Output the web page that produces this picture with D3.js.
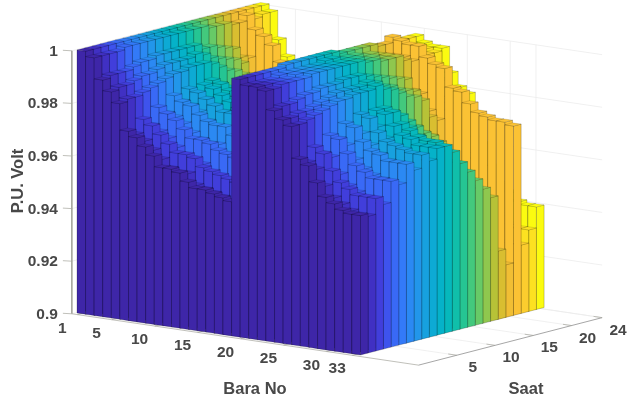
<!DOCTYPE html>
<html><head><meta charset="utf-8">
<script src="https://d3js.org/d3.v7.min.js"></script>
<style>html,body{margin:0;padding:0;background:#fff;overflow:hidden}svg{display:block}text{font-family:"Liberation Sans",Arial,sans-serif}</style>
</head><body>
<script>
const buses=d3.range(1,34);
const hours=d3.range(1,25);
const busTicks=[1,5,10,15,20,25,30,33];
const hourTicks=[5,10,15,20,24];
const voltTicks=[0.9,0.92,0.94,0.96,0.98,1];
const voltLabels=["0.9","0.92","0.94","0.96","0.98","1"];
const parulaStops=["#3e26a8","#4338dd","#3b68fb","#2e87f7","#1c9fe3","#04b0ce","#02bbb8","#2cc988","#72cc63","#c5bf27","#fdbb38","#fcc832","#fbfb10"];
const h01=[1.000,.998,.990,.986,.982,.972,.970,.967,.964,.960,.960,.959,.956,.954,.954,.953,.952,.951,.998,.996,.996,.995,.988,.985,.983,.971,.969,.963,.958,.956,.954,.953,.953];
const h02=[1.000,.998,.991,.987,.983,.970,.968,.965,.962,.959,.958,.958,.954,.953,.952,.951,.950,.950,.998,.996,.996,.995,.989,.985,.983,.969,.967,.961,.957,.955,.953,.952,.952];
const h03=[1.000,.998,.991,.987,.983,.975,.973,.970,.967,.964,.964,.963,.960,.959,.958,.957,.956,.956,.998,.996,.996,.996,.989,.986,.984,.974,.972,.966,.962,.960,.958,.958,.958];
const h04=[1.000,.998,.991,.988,.984,.972,.970,.968,.965,.962,.961,.960,.957,.956,.956,.955,.954,.954,.998,.996,.996,.996,.990,.986,.985,.971,.970,.964,.960,.958,.956,.955,.955];
const h05=[1.000,.999,.992,.989,.985,.978,.976,.974,.971,.968,.968,.967,.965,.964,.963,.962,.961,.961,.998,.997,.996,.996,.991,.987,.986,.977,.976,.971,.967,.965,.963,.963,.963];
const h06=[1.000,.999,.993,.989,.986,.975,.974,.972,.969,.967,.966,.966,.963,.962,.961,.961,.960,.960,.998,.997,.997,.996,.991,.988,.987,.975,.973,.968,.965,.963,.962,.961,.961];
const h07=[1.000,.999,.993,.990,.987,.981,.979,.978,.975,.973,.972,.972,.969,.968,.968,.967,.966,.966,.999,.997,.997,.997,.992,.989,.988,.980,.979,.974,.971,.970,.968,.968,.968];
const h08=[1.000,.999,.994,.991,.988,.978,.977,.975,.972,.970,.970,.969,.967,.966,.965,.965,.964,.964,.999,.997,.997,.997,.992,.990,.988,.977,.976,.972,.969,.967,.966,.965,.965];
const h09=[1.000,.999,.994,.991,.988,.982,.981,.979,.977,.975,.975,.974,.972,.971,.970,.970,.969,.969,.999,.997,.997,.997,.992,.990,.989,.982,.981,.976,.973,.972,.971,.970,.970];
const h10=[1.000,.999,.994,.991,.989,.979,.978,.976,.974,.972,.971,.971,.968,.968,.967,.967,.966,.966,.999,.997,.997,.997,.993,.990,.989,.978,.977,.973,.970,.969,.967,.967,.967];
const h11=[1.000,.999,.994,.991,.989,.982,.981,.979,.977,.975,.975,.974,.972,.971,.971,.970,.970,.970,.999,.998,.997,.997,.993,.990,.989,.982,.981,.977,.974,.973,.971,.971,.971];
const h12=[1.000,.999,.994,.992,.989,.983,.982,.980,.978,.976,.975,.975,.973,.972,.972,.971,.971,.970,.999,.998,.997,.997,.993,.991,.990,.982,.981,.977,.975,.973,.972,.972,.971];
const h13=[1.000,.999,.994,.991,.988,.981,.980,.978,.975,.973,.973,.972,.970,.969,.968,.968,.967,.967,.999,.997,.997,.997,.992,.990,.988,.980,.979,.975,.972,.970,.969,.968,.968];
const h14=[1.000,.999,.992,.989,.986,.978,.976,.974,.971,.969,.968,.968,.965,.964,.964,.963,.962,.962,.998,.997,.997,.996,.991,.988,.987,.977,.976,.971,.967,.966,.964,.963,.963];
const h15=[1.000,.999,.992,.988,.984,.975,.974,.971,.968,.965,.965,.964,.961,.960,.959,.959,.958,.957,.998,.997,.996,.996,.990,.987,.985,.974,.973,.968,.963,.962,.960,.959,.959];
const h16=[1.000,.998,.991,.987,.983,.973,.971,.968,.965,.962,.961,.961,.957,.956,.955,.954,.953,.953,.998,.996,.996,.995,.989,.985,.983,.972,.970,.964,.960,.958,.956,.955,.955];
const h17=[1.000,.998,.990,.986,.981,.970,.968,.965,.962,.958,.958,.957,.953,.952,.951,.950,.949,.949,.998,.996,.995,.995,.988,.984,.982,.969,.968,.961,.956,.954,.952,.951,.951];
const h18=[1.000,.998,.989,.984,.980,.968,.966,.962,.958,.955,.954,.953,.949,.948,.947,.946,.945,.944,.998,.995,.995,.995,.987,.983,.980,.967,.965,.958,.952,.950,.947,.947,.947];
const h19=[1.000,.997,.985,.978,.972,.955,.952,.948,.942,.937,.936,.935,.930,.927,.926,.925,.923,.923,.997,.994,.993,.993,.982,.976,.973,.953,.951,.941,.934,.930,.927,.926,.926];
const h20=[1.000,.997,.984,.976,.969,.952,.948,.944,.938,.932,.931,.930,.924,.922,.920,.919,.917,.917,.997,.993,.993,.992,.980,.974,.971,.950,.947,.936,.928,.925,.921,.920,.920];
const h21=[1.000,.999,.994,.992,.989,.983,.982,.981,.979,.977,.976,.976,.974,.973,.973,.972,.972,.971,.999,.998,.997,.997,.993,.991,.990,.983,.982,.978,.975,.974,.973,.973,.972];
const h22=[1.000,.997,.985,.978,.972,.955,.952,.948,.942,.937,.936,.935,.930,.927,.926,.925,.923,.923,.997,.994,.993,.993,.982,.976,.973,.953,.951,.941,.934,.930,.927,.926,.926];
const h23=[1.000,.998,.986,.980,.974,.958,.955,.951,.946,.941,.941,.939,.934,.932,.931,.930,.928,.928,.997,.994,.994,.993,.983,.977,.975,.957,.955,.945,.938,.935,.932,.931,.931];
const h24=[1.000,.998,.988,.982,.977,.963,.961,.957,.953,.948,.948,.947,.942,.941,.939,.938,.937,.937,.997,.995,.994,.994,.985,.980,.978,.962,.960,.952,.946,.943,.940,.939,.939];
const rows=[h01,h02,h03,h04,h05,h06,h07,h08,h09,h10,h11,h12,h13,h14,h15,h16,h17,h18,h19,h20,h21,h22,h23,h24];

const W=630,H=403;
const svg=d3.select("body").append("svg").attr("width",W).attr("height",H).attr("viewBox",[0,0,W,H]);
// orthographic projection expressed as three linear scales
const busX=d3.scaleLinear([0.5,33.5],[77,360.5]);
const busY=d3.scaleLinear([0.5,33.5],[313,355]);
const hourX=d3.scaleLinear([0.5,24.5],[0,183.6]);
const hourY=d3.scaleLinear([0.5,24.5],[0,-47.5]);
const voltY=d3.scaleLinear([0.9,1],[0,-263]);
const P=(b,h,v)=>[busX(b)+hourX(h),busY(b)+hourY(h)+voltY(v)];
const color=d3.scaleSequential(d3.interpolateRgbBasis(parulaStops)).domain([1,24]);
const poly=pts=>"M"+pts.map(p=>p[0].toFixed(2)+","+p[1].toFixed(2)).join("L")+"Z";
const busLo=0.35,busHi=40.7,hourLo=0,hourHi=24;

// back walls and floor grid
const grid=svg.append("g").attr("fill","none").attr("stroke","#ececec").attr("stroke-width",0.8);
const seg=(g,a,b)=>g.append("path").attr("d",poly([a,b]).replace("Z",""));
voltTicks.forEach(v=>{seg(grid,P(busLo,hourHi,v),P(busHi,hourHi,v));seg(grid,P(busLo,hourLo,v),P(busLo,hourHi,v));});
busTicks.forEach(b=>{seg(grid,P(b,hourHi,0.9),P(b,hourHi,1));seg(grid,P(b,hourLo,0.9),P(b,hourHi,0.9));});
hourTicks.forEach(h=>{seg(grid,P(busLo,h,0.9),P(busLo,h,1));seg(grid,P(busLo,h,0.9),P(busHi,h,0.9));});

// axes
const axes=svg.append("g").attr("fill","none").attr("stroke","#a5a59c").attr("stroke-width",0.7);
seg(axes,P(busLo,hourLo,0.9),P(busLo,hourLo,1)).attr("stroke-width",1.3).attr("stroke","#8f8f85");
seg(axes,P(busLo,hourLo,0.9),P(busHi,hourLo,0.9));
seg(axes,P(busHi,hourLo,0.9),P(busHi,hourHi,0.9)).attr("stroke","#808080");
voltTicks.forEach(v=>{const p=P(busLo,hourLo,v);seg(axes,[p[0]-9,p[1]-0.5],p);});
busTicks.forEach(b=>seg(axes,P(b,hourLo,0.9),P(b,hourLo+1,0.9)));
hourTicks.forEach(h=>seg(axes,P(busHi,h,0.9),P(busHi-1,h,0.9)));

// bars, painted back to front
const bars=[];
hours.slice().reverse().forEach(h=>buses.forEach(b=>bars.push({b,h,v:rows[h-1][b-1]})));
const marks=svg.append("g").style("filter","blur(0.5px)").attr("stroke","#000").attr("stroke-width",0.6).attr("stroke-linejoin","round");
const faces=d=>{
  const b0=d.b-.5,b1=d.b+.5,h0=d.h-.5,h1=d.h+.5,z=d.v,f=0.9;
  return [
    {pts:[P(b0,h0,f),P(b1,h0,f),P(b1,h0,z),P(b0,h0,z)],o:0.36},
    {pts:[P(b1,h0,f),P(b1,h1,f),P(b1,h1,z),P(b1,h0,z)],o:0.36},
    {pts:[P(b0,h0,z),P(b1,h0,z),P(b1,h1,z),P(b0,h1,z)],o:0.2}
  ];
};
marks.selectAll("g").data(bars).join("g").attr("fill",d=>color(d.h))
  .selectAll("path").data(faces).join("path").attr("d",f=>poly(f.pts)).attr("stroke-opacity",f=>f.o);

// labels
const txt=svg.append("g").style("filter","blur(0.35px)").attr("fill","#484848").attr("font-size",15.5).attr("font-weight",700);
voltTicks.forEach((v,i)=>{const p=P(busLo,hourLo,v);txt.append("text").attr("x",p[0]-14).attr("y",p[1]+5).attr("text-anchor","end").text(voltLabels[i]);});
busTicks.forEach(b=>{const p=P(b,0.5,0.9);txt.append("text").attr("x",p[0]-19).attr("y",p[1]+19).attr("text-anchor","middle").text(b);});
hourTicks.forEach(h=>{const p=P(busHi,h,0.9);txt.append("text").attr("x",p[0]+16).attr("y",p[1]+17).attr("text-anchor","middle").text(h);});
txt.append("text").attr("x",255).attr("y",394).attr("text-anchor","middle").attr("font-size",16.5).text("Bara No");
txt.append("text").attr("x",526).attr("y",394).attr("text-anchor","middle").attr("font-size",16.5).text("Saat");
txt.append("text").attr("transform","translate(23,181) rotate(-90)").attr("text-anchor","middle").attr("font-size",16.5).text("P.U. Volt");
</script>
</body></html>
